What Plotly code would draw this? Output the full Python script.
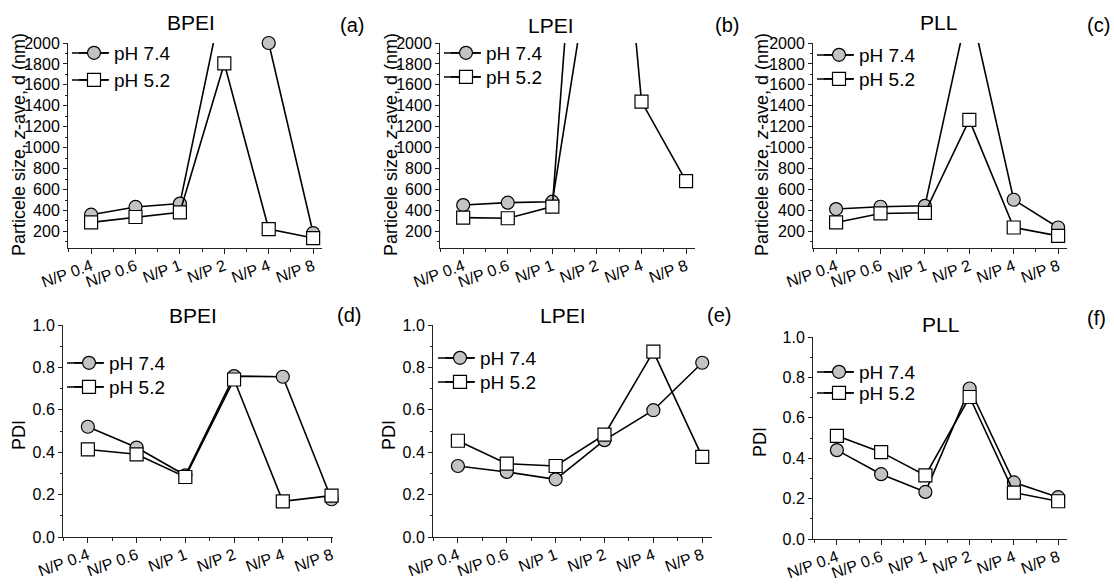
import plotly.graph_objects as go

# ---------------- data ----------------
categories = ["N/P 0.4", "N/P 0.6", "N/P 1", "N/P 2", "N/P 4", "N/P 8"]
series_names = ["pH 7.4", "pH 5.2"]

# Particle size, z-average diameter (nm); values above 2000 lie off the plotted scale
bpei_size_ph74 = [360, 434, 466, 2500, 2000, 185]
bpei_size_ph52 = [287, 338, 383, 1805, 223, 137]
lpei_size_ph74 = [452, 475, 484, 3160, 3000, 2600]
lpei_size_ph52 = [332, 326, 437, 6100, 1440, 680]
pll_size_ph74 = [414, 436, 445, 2390, 503, 238]
pll_size_ph52 = [286, 372, 378, 1266, 238, 158]

# Polydispersity index
bpei_pdi_ph74 = [0.520, 0.422, 0.291, 0.759, 0.756, 0.178]
bpei_pdi_ph52 = [0.413, 0.390, 0.283, 0.743, 0.168, 0.195]
lpei_pdi_ph74 = [0.335, 0.307, 0.272, 0.457, 0.598, 0.822]
lpei_pdi_ph52 = [0.454, 0.346, 0.335, 0.483, 0.874, 0.378]
pll_pdi_ph74 = [0.440, 0.321, 0.233, 0.745, 0.280, 0.207]
pll_pdi_ph52 = [0.511, 0.430, 0.315, 0.703, 0.230, 0.187]

size_ticks = [200, 400, 600, 800, 1000, 1200, 1400, 1600, 1800, 2000]
pdi_ticks = [0.0, 0.2, 0.4, 0.6, 0.8, 1.0]

panel_titles = ["BPEI", "LPEI", "PLL", "BPEI", "LPEI", "PLL"]
panel_letters = ["(a)", "(b)", "(c)", "(d)", "(e)", "(f)"]
size_title = "Particele size, <i>z</i>-ave, d (nm)"
pdi_title = "PDI"

# ---------------- layout helpers ----------------
W, H = 1114, 584
FONT = "Arial, Liberation Sans, sans-serif"
AX_COL = "#222222"


def px_x(v):
    return v / W


def px_y(v):
    return 1 - v / H


panels = [
    dict(d74=bpei_size_ph74, d52=bpei_size_ph52, xd=(68, 322), yd=(43, 248),
         xr=(-0.52, 5.2), yr=(42, 2000), kind="size",
         tpos=(191, 23), lpos=(352, 25), ypos=(19, 145),
         leg_x0=72, leg_y=(53, 80)),
    dict(d74=lpei_size_ph74, d52=lpei_size_ph52, xd=(440, 695), yd=(43, 248),
         xr=(-0.52, 5.2), yr=(42, 2000), kind="size",
         tpos=(551, 25), lpos=(727, 25), ypos=(391, 145),
         leg_x0=444, leg_y=(53, 77)),
    dict(d74=pll_size_ph74, d52=pll_size_ph52, xd=(813, 1067), yd=(43, 248),
         xr=(-0.52, 5.2), yr=(42, 2000), kind="size",
         tpos=(938, 23), lpos=(1098, 25), ypos=(762, 145),
         leg_x0=817, leg_y=(55, 79)),
    dict(d74=bpei_pdi_ph74, d52=bpei_pdi_ph52, xd=(63, 333), yd=(325, 537),
         xr=(-0.51, 5.03), yr=(0, 1), kind="pdi",
         tpos=(193, 315), lpos=(349, 315), ypos=(19, 435),
         leg_x0=67, leg_y=(363, 387)),
    dict(d74=lpei_pdi_ph74, d52=lpei_pdi_ph52, xd=(433, 712), yd=(325, 537),
         xr=(-0.51, 5.2), yr=(0, 1), kind="pdi",
         tpos=(563, 315), lpos=(719, 315), ypos=(389, 435),
         leg_x0=438, leg_y=(358, 382)),
    dict(d74=pll_pdi_ph74, d52=pll_pdi_ph52, xd=(813, 1067), yd=(337, 539),
         xr=(-0.54, 5.2), yr=(0, 1), kind="pdi",
         tpos=(940, 325), lpos=(1096, 318), ypos=(760, 442),
         leg_x0=817, leg_y=(372, 393)),
]

xpos = list(range(len(categories)))

fig = go.Figure()
layout = dict(
    width=W, height=H,
    margin=dict(l=0, r=0, t=0, b=0),
    paper_bgcolor="white", plot_bgcolor="white",
    font=dict(family=FONT, color="black"),
    template="none",
    annotations=[],
    shapes=[],
)

LEG_FONT = 19
leg_count = 0
for i, p in enumerate(panels):
    n = i + 1
    sfx = "" if n == 1 else str(n)
    xa, ya = "x" + sfx, "y" + sfx
    marker_x = p["leg_x0"] + 22

    for k, (name, data, sym, fill) in enumerate([
        (series_names[0], p["d74"], "circle", "#c3c3c3"),
        (series_names[1], p["d52"], "square", "white"),
    ]):
        leg_count += 1
        legname = "legend" if leg_count == 1 else "legend%d" % leg_count
        fig.add_trace(go.Scatter(
            x=xpos, y=data, name=name, mode="lines+markers",
            xaxis=xa, yaxis=ya, legend=legname, showlegend=True,
            cliponaxis=False,
            line=dict(color="black", width=1.6),
            marker=dict(symbol=sym, size=13, color=fill,
                        line=dict(color="black", width=1.2)),
        ))
        yc = p["leg_y"][k]
        layout[legname] = dict(
            x=px_x(marker_x - 20), y=px_y(yc - 19),
            xanchor="left", yanchor="top",
            bgcolor="rgba(0,0,0,0)", borderwidth=0,
            font=dict(size=LEG_FONT, family=FONT, color="black"),
            tracegroupgap=0, itemwidth=30,
        )
        # extend the legend sample line to the reference's longer length
        layout["shapes"].append(dict(
            type="line", xref="paper", yref="paper", layer="below",
            x0=px_x(p["leg_x0"]), x1=px_x(marker_x + 14),
            y0=px_y(yc), y1=px_y(yc),
            line=dict(color="black", width=1.6),
        ))

    if p["kind"] == "size":
        yticks = size_ticks
        ytext = [str(v) for v in size_ticks]
        minor_d = 100
        ytitle = size_title
    else:
        yticks = pdi_ticks
        ytext = ["%.1f" % v for v in pdi_ticks]
        minor_d = 0.1
        ytitle = pdi_title

    layout["xaxis" + sfx] = dict(
        domain=[px_x(p["xd"][0]), px_x(p["xd"][1])],
        anchor=ya, range=list(p["xr"]),
        tickmode="array", tickvals=xpos, ticktext=categories,
        tickangle=-20, tickfont=dict(size=16, family=FONT, color="black"),
        ticks="outside", ticklen=5, tickwidth=1, tickcolor=AX_COL,
        ticklabelstandoff=-3,
        minor=dict(tick0=0.5, dtick=1, ticks="outside", ticklen=3,
                   tickcolor=AX_COL, showgrid=False),
        showline=True, linecolor=AX_COL, linewidth=1,
        showgrid=False, zeroline=False, fixedrange=True,
    )
    layout["yaxis" + sfx] = dict(
        domain=[px_y(p["yd"][1]), px_y(p["yd"][0])],
        anchor=xa, range=list(p["yr"]),
        tickmode="array", tickvals=yticks, ticktext=ytext,
        tickfont=dict(size=16, family=FONT, color="black"),
        ticks="outside", ticklen=4, tickwidth=1, tickcolor=AX_COL,
        minor=dict(tick0=0, dtick=minor_d, ticks="outside", ticklen=2,
                   tickcolor=AX_COL, showgrid=False),
        showline=True, linecolor=AX_COL, linewidth=1,
        showgrid=False, zeroline=False, fixedrange=True,
    )
    layout["annotations"] += [
        dict(text=panel_titles[i], x=px_x(p["tpos"][0]), y=px_y(p["tpos"][1]),
             xref="paper", yref="paper", xanchor="center", yanchor="middle",
             showarrow=False, font=dict(size=21, family=FONT, color="black")),
        dict(text=panel_letters[i], x=px_x(p["lpos"][0]), y=px_y(p["lpos"][1]),
             xref="paper", yref="paper", xanchor="center", yanchor="middle",
             showarrow=False, font=dict(size=20, family=FONT, color="black")),
        dict(text=ytitle, x=px_x(p["ypos"][0]), y=px_y(p["ypos"][1]),
             xref="paper", yref="paper", xanchor="center", yanchor="middle",
             textangle=-90, showarrow=False,
             font=dict(size=18, family=FONT, color="black")),
    ]

fig.update_layout(**layout)
fig.write_html(
    "out.html",
    config={"displayModeBar": False},
    post_script="document.body.style.margin='0px';"
                "document.documentElement.style.overflow='hidden';",
)
